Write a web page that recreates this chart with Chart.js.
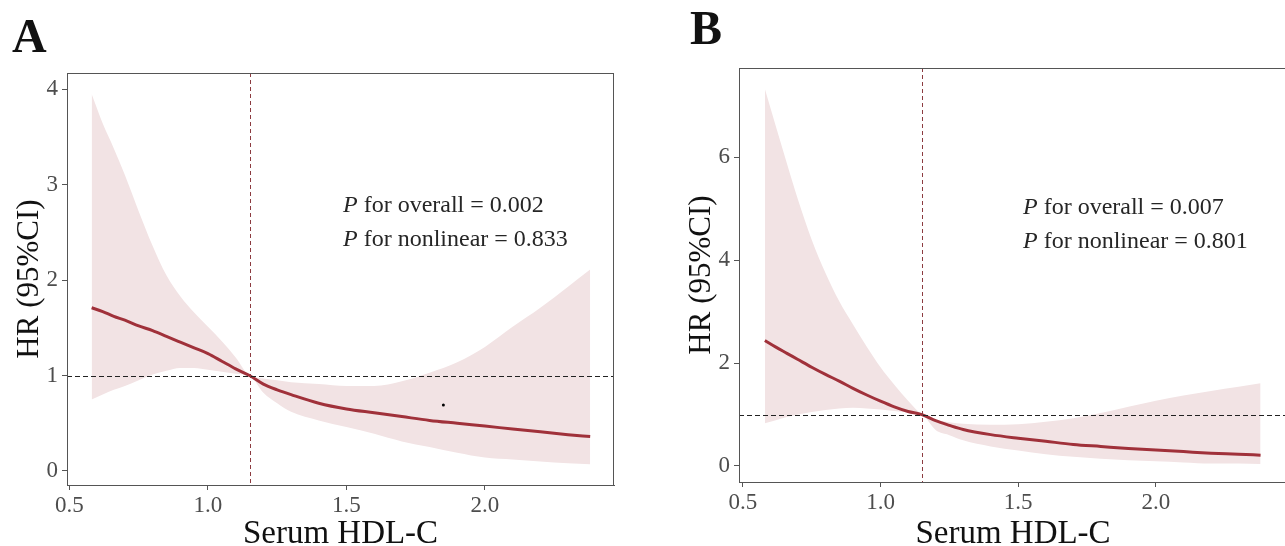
<!DOCTYPE html>
<html>
<head>
<meta charset="utf-8">
<script src="https://cdn.jsdelivr.net/npm/chart.js@4.4.1/dist/chart.umd.min.js"></script>
<style>
  html, body { margin: 0; padding: 0; background: #fff; overflow: hidden; }
  #wrap { position: relative; width: 1285px; height: 546px; overflow: hidden; }
  #ca { position: absolute; left: 0; top: 0; }
  #cb { position: absolute; left: 640px; top: 0; }
</style>
</head>
<body>
<div id="wrap">
  <canvas id="ca" width="640" height="546"></canvas>
  <canvas id="cb" width="660" height="546"></canvas>
</div>
<script>
// Restricted cubic spline HR curves for serum HDL-C, panels A and B.
const X_TICKS = [0.5, 1.0, 1.5, 2.0];
const Y_TICKS_A = [0, 1, 2, 3, 4];
const Y_TICKS_B = [0, 2, 4, 6];

const X_A = [0.58, 0.62, 0.66, 0.70, 0.75, 0.80, 0.85, 0.90, 0.95, 1.00, 1.05, 1.10, 1.15, 1.20,
  1.25, 1.30, 1.40, 1.50, 1.60, 1.70, 1.80, 1.90, 2.00, 2.10, 2.20, 2.30, 2.38];
const HR_A = [1.71, 1.67, 1.62, 1.58, 1.52, 1.47, 1.41, 1.35, 1.29, 1.23, 1.15, 1.07, 1.00, 0.91,
  0.85, 0.80, 0.71, 0.65, 0.61, 0.57, 0.53, 0.50, 0.47, 0.44, 0.41, 0.38, 0.36];
const UP_A = [3.95, 3.64, 3.38, 3.10, 2.72, 2.36, 2.05, 1.83, 1.66, 1.51, 1.36, 1.19, 1.00, 0.97,
  0.95, 0.93, 0.91, 0.89, 0.89, 0.94, 1.03, 1.14, 1.30, 1.51, 1.71, 1.93, 2.11];
const LO_A = [0.75, 0.80, 0.85, 0.89, 0.95, 1.01, 1.05, 1.08, 1.08, 1.06, 1.04, 1.02, 1.00, 0.82,
  0.71, 0.62, 0.53, 0.46, 0.39, 0.31, 0.25, 0.19, 0.14, 0.12, 0.10, 0.08, 0.07];
const STRAY_X = [1.85];
const STRAY_Y = [0.69];

const X_B = [0.58, 0.62, 0.66, 0.70, 0.75, 0.80, 0.85, 0.90, 0.95, 1.00, 1.05, 1.10, 1.15, 1.20,
  1.25, 1.30, 1.40, 1.50, 1.60, 1.70, 1.80, 1.90, 2.00, 2.10, 2.20, 2.30, 2.38];
const HR_B = [2.44, 2.31, 2.19, 2.07, 1.92, 1.78, 1.65, 1.51, 1.38, 1.26, 1.15, 1.06, 1.00, 0.88,
  0.79, 0.71, 0.61, 0.54, 0.48, 0.42, 0.38, 0.34, 0.31, 0.28, 0.25, 0.23, 0.21];
const UP_B = [7.33, 6.60, 5.88, 5.18, 4.40, 3.75, 3.20, 2.75, 2.32, 1.92, 1.58, 1.27, 1.00, 0.90,
  0.85, 0.82, 0.80, 0.81, 0.86, 0.93, 1.03, 1.15, 1.27, 1.37, 1.46, 1.54, 1.61];
const LO_B = [0.83, 0.89, 0.95, 1.00, 1.05, 1.09, 1.12, 1.13, 1.12, 1.10, 1.07, 1.04, 1.00, 0.70,
  0.60, 0.50, 0.38, 0.30, 0.23, 0.18, 0.14, 0.11, 0.09, 0.07, 0.05, 0.05, 0.04];

const P_A = ["overall = 0.002", "nonlinear = 0.833"];
const P_B = ["overall = 0.007", "nonlinear = 0.801"];

const SERIF = '"Liberation Serif", "Times New Roman", serif';
const TICK_INK = "#4d4d4d";
const FRAME = "#555";
const LINE_RED = "#a0313a";
const BAND = "#f2e3e4";

const pts = (xs, ys) => xs.map((x, i) => ({ x, y: ys[i] }));

// dashed reference lines, panel frame, panel letter and p-value text
const panelDecor = {
  id: "panelDecor",
  afterDatasetsDraw(chart, _args, o) {
    const { ctx, chartArea: a, scales: { x, y } } = chart;
    const rx = Math.round(x.getPixelForValue(o.refX)) + 0.5;
    const ry = Math.round(y.getPixelForValue(o.refY)) + 0.5;
    ctx.save();
    ctx.lineWidth = 1;
    ctx.setLineDash([5, 3]);
    ctx.strokeStyle = "#222";
    ctx.beginPath(); ctx.moveTo(a.left, ry); ctx.lineTo(a.right, ry); ctx.stroke();
    ctx.setLineDash([4, 3]);
    ctx.strokeStyle = "#8c3b40";
    ctx.beginPath(); ctx.moveTo(rx, a.top); ctx.lineTo(rx, a.bottom); ctx.stroke();
    ctx.restore();
  },
  afterDraw(chart, _args, o) {
    const { ctx, chartArea: a } = chart;
    ctx.save();
    ctx.strokeStyle = FRAME;
    ctx.lineWidth = 1;
    ctx.strokeRect(Math.round(a.left) + 0.5, Math.round(a.top) + 0.5,
      Math.round(a.right - a.left) - 1, Math.round(a.bottom - a.top));

    ctx.fillStyle = "#111";
    ctx.textBaseline = "alphabetic";
    ctx.textAlign = "left";
    ctx.font = `bold 48px ${SERIF}`;
    ctx.fillText(o.letter, o.letterX, o.letterY);

    ctx.fillStyle = "#262626";
    o.pLines.forEach((t, i) => {
      const bx = a.left + o.textDx;
      const by = a.top + o.textDy + i * 34;
      ctx.font = `italic 24px ${SERIF}`;
      ctx.fillText("P", bx, by);
      const w = ctx.measureText("P").width;
      ctx.font = `24px ${SERIF}`;
      ctx.fillText(" for " + t, bx + w, by);
    });
    ctx.restore();
  },
};

function axisTicks() {
  return { display: true, drawOnChartArea: false, drawTicks: true, tickLength: 5, color: FRAME };
}

function makePanel(canvas, p) {
  const datasets = [
    { data: pts(p.xs, p.up), fill: "+1", backgroundColor: BAND, borderWidth: 0,
      pointRadius: 0, cubicInterpolationMode: "monotone", order: 3 },
    { data: pts(p.xs, p.lo), fill: false, borderWidth: 0, pointRadius: 0,
      cubicInterpolationMode: "monotone", order: 3 },
    { data: pts(p.xs, p.hr), fill: false, borderColor: LINE_RED, borderWidth: 3,
      pointRadius: 0, cubicInterpolationMode: "monotone", order: 1 },
  ];
  if (p.strayX) {
    datasets.push({ data: pts(p.strayX, p.strayY), showLine: false, pointRadius: 1.5,
      pointBackgroundColor: "#000", pointBorderWidth: 0, order: 0 });
  }
  return new Chart(canvas, {
    type: "line",
    data: { datasets },
    options: {
      responsive: false,
      animation: false,
      events: [],
      layout: { padding: { left: 0, top: p.top, right: p.right, bottom: 0 } },
      plugins: {
        legend: { display: false },
        tooltip: { enabled: false },
        panelDecor: p.decor,
      },
      scales: {
        x: {
          type: "linear",
          min: p.xMin, max: p.xMax,
          afterBuildTicks: (s) => { s.ticks = X_TICKS.map((v) => ({ value: v })); },
          afterFit: (s) => { s.height = p.xAxisH; },
          ticks: { font: { family: SERIF, size: 23 }, color: TICK_INK, padding: 2,
            maxRotation: 0, autoSkip: false, callback: (v) => Number(v).toFixed(1) },
          grid: axisTicks(),
          border: { display: true, color: FRAME },
          title: { display: true, text: "Serum HDL-C", color: "#111",
            font: { family: SERIF, size: 33, lineHeight: 0.7 }, padding: 0 },
        },
        y: {
          type: "linear",
          min: p.yMin, max: p.yMax,
          afterBuildTicks: (s) => { s.ticks = p.yTicks.map((v) => ({ value: v })); },
          afterFit: (s) => { s.width = p.yAxisW; },
          ticks: { font: { family: SERIF, size: 23 }, color: TICK_INK, padding: 4,
            autoSkip: false, callback: (v) => String(v) },
          grid: axisTicks(),
          border: { display: true, color: FRAME },
          title: { display: true, text: "HR (95%CI)", color: "#111",
            font: { family: SERIF, size: 31 }, padding: { top: p.yTitlePad, bottom: 0 } },
        },
      },
    },
    plugins: [panelDecor],
  });
}

makePanel(document.getElementById("ca"), {
  xs: X_A, hr: HR_A, up: UP_A, lo: LO_A, strayX: STRAY_X, strayY: STRAY_Y,
  xMin: 0.491, xMax: 2.466, yMin: -0.147, yMax: 4.17, yTicks: Y_TICKS_A,
  top: 73, right: 26, yAxisW: 67, xAxisH: 61, yTitlePad: 11,
  decor: { refX: 1.15, refY: 1, letter: "A", letterX: 12, letterY: 52,
    pLines: P_A, textDx: 276, textDy: 139 },
});

makePanel(document.getElementById("cb"), {
  xs: X_B, hr: HR_B, up: UP_B, lo: LO_B,
  xMin: 0.486, xMax: 2.476, yMin: -0.311, yMax: 7.736, yTicks: Y_TICKS_B,
  top: 68, right: 13, yAxisW: 99, xAxisH: 64, yTitlePad: 43,
  decor: { refX: 1.15, refY: 1, letter: "B", letterX: 50, letterY: 44,
    pLines: P_B, textDx: 284, textDy: 146 },
});
</script>
</body>
</html>
